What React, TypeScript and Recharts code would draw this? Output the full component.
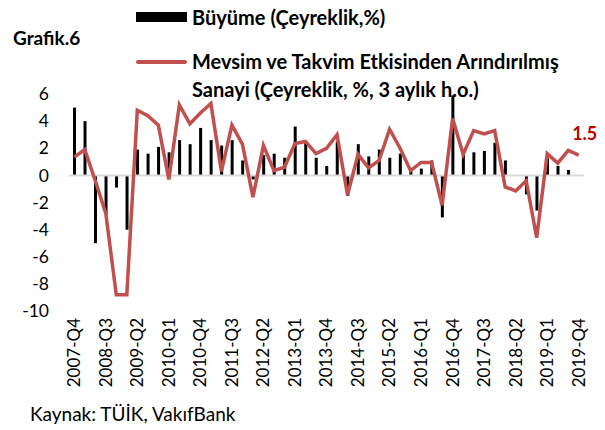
import { ComposedChart, Bar, Line, XAxis, YAxis, ReferenceLine, LabelList } from 'recharts';

const quarters = [
  '2007-Q4',
  '2008-Q1', '2008-Q2', '2008-Q3', '2008-Q4',
  '2009-Q1', '2009-Q2', '2009-Q3', '2009-Q4',
  '2010-Q1', '2010-Q2', '2010-Q3', '2010-Q4',
  '2011-Q1', '2011-Q2', '2011-Q3', '2011-Q4',
  '2012-Q1', '2012-Q2', '2012-Q3', '2012-Q4',
  '2013-Q1', '2013-Q2', '2013-Q3', '2013-Q4',
  '2014-Q1', '2014-Q2', '2014-Q3', '2014-Q4',
  '2015-Q1', '2015-Q2', '2015-Q3', '2015-Q4',
  '2016-Q1', '2016-Q2', '2016-Q3', '2016-Q4',
  '2017-Q1', '2017-Q2', '2017-Q3', '2017-Q4',
  '2018-Q1', '2018-Q2', '2018-Q3', '2018-Q4',
  '2019-Q1', '2019-Q2', '2019-Q3', '2019-Q4',
];

// Büyüme (Çeyreklik, %) - bars
const buyume: (number | null)[] = [
  5.0,
  4.0, -5.0, -2.9, -0.9,
  -4.0, 1.9, 1.6, 2.1,
  1.7, 2.6, 2.3, 3.5,
  2.6, 2.2, 2.6, 1.1,
  -0.3, 1.5, 1.6, 1.3,
  3.6, 2.4, 1.3, 0.7,
  2.5, -1.5, 2.3, 1.4,
  1.9, 1.3, 1.6, 0.5,
  0.5, 1.1, -3.1, 5.9,
  1.5, 1.7, 1.8, 2.4,
  1.1, 0, -1.4, -2.6,
  1.3, 0.7, 0.4, null,
];

// Mevsim ve takvim etkisinden arındırılmış sanayi (3 aylık h.o.) - line
const sanayi = [
  1.35,
  1.9, -0.4, -2.8, -8.8,
  -8.8, 4.8, 4.4, 3.7,
  -0.3, 5.2, 3.8, 4.6,
  5.3, 0.3, 3.7, 2.3,
  -1.6, 2.2, 0.35, 0.6,
  2.35, 2.5, 1.6, 2.0,
  3.0, -1.45, 1.55, 0.55,
  1.1, 3.4, 2.0, 0.35,
  0.95, 0.95, -2.2, 4.2,
  1.55, 3.3, 3.05, 3.3,
  -0.85, -1.15, -0.4, -4.6,
  1.6, 0.9, 1.85, 1.5,
];

const yTicks = [-10, -8, -6, -4, -2, 0, 2, 4, 6];

const data = quarters.map((q, i) => ({ q, buyume: buyume[i], sanayi: sanayi[i] }));

const FONT = 'Lato, "DejaVu Sans", sans-serif';
const RED = '#C0504D';

const XTick = (props: any) => {
  const { x, y, payload } = props;
  return (
    <text
      x={x}
      y={y}
      transform={`rotate(-90, ${x}, ${y})`}
      textAnchor="end"
      dy="0.35em"
      fontSize={17}
      fontFamily={FONT}
      fill="#000"
    >
      {payload.value}
    </text>
  );
};

const lastLabel = (props: any) => {
  const { x, y, index, value } = props;
  if (index !== data.length - 1) return null;
  return (
    <text x={x + 6} y={y - 15} textAnchor="middle" fontSize={18} fontWeight="bold" fontFamily={FONT} fill="#C00000">
      {value}
    </text>
  );
};

export default function App() {
  return (
    <div style={{ position: 'absolute', left: 0, top: 0, width: 605, height: 430, background: '#fff', fontFamily: FONT }}>
      <ComposedChart
        width={605}
        height={430}
        data={data}
        margin={{ top: 94, right: 21, bottom: 19, left: 0 }}
        barCategoryGap={0}
      >
        <XAxis
          dataKey="q"
          interval={2}
          axisLine={false}
          tickLine={false}
          tickSize={0}
          tickMargin={7}
          height={100}
          tick={<XTick />}
        />
        <YAxis
          domain={[-10, 6]}
          ticks={yTicks}
          width={69}
          axisLine={false}
          tickLine={false}
          tickSize={0}
          tickMargin={20}
          tick={{ fontSize: 17.5, fill: '#000', fontFamily: FONT }}
        />
        <ReferenceLine y={0} stroke="#d9d9d9" strokeWidth={2} />
        <Bar dataKey="buyume" fill="#000" barSize={3} isAnimationActive={false} />
        <Line
          dataKey="sanayi"
          stroke={RED}
          strokeWidth={3.5}
          dot={false}
          type="linear"
          isAnimationActive={false}
        >
          <LabelList dataKey="sanayi" content={lastLabel} />
        </Line>
      </ComposedChart>

      <div style={{ position: 'absolute', left: 13, top: 24, fontSize: 19, lineHeight: '28px', fontWeight: 'bold' }}>Grafik.6</div>

      <div style={{ position: 'absolute', left: 136, top: 12, width: 51, height: 10, background: '#000' }} />
      <div style={{ position: 'absolute', left: 192, top: 3, fontSize: 20, lineHeight: '28px', fontWeight: 'bold', whiteSpace: 'nowrap' }}>
        Büyüme (Çeyreklik,%)
      </div>

      <div style={{ position: 'absolute', left: 136, top: 60, width: 51, height: 4, background: RED, borderRadius: 2 }} />
      <div style={{ position: 'absolute', left: 192, top: 47, fontSize: 20, fontWeight: 'bold', lineHeight: '28px', whiteSpace: 'nowrap' }}>
        Mevsim ve Takvim Etkisinden Arındırılmış
        <br />
        Sanayi (Çeyreklik, %, 3 aylık h.o.)
      </div>

      <div style={{ position: 'absolute', left: 30, top: 400, fontSize: 19, lineHeight: '28px', whiteSpace: 'nowrap' }}>Kaynak: TÜİK, VakıfBank</div>
    </div>
  );
}
